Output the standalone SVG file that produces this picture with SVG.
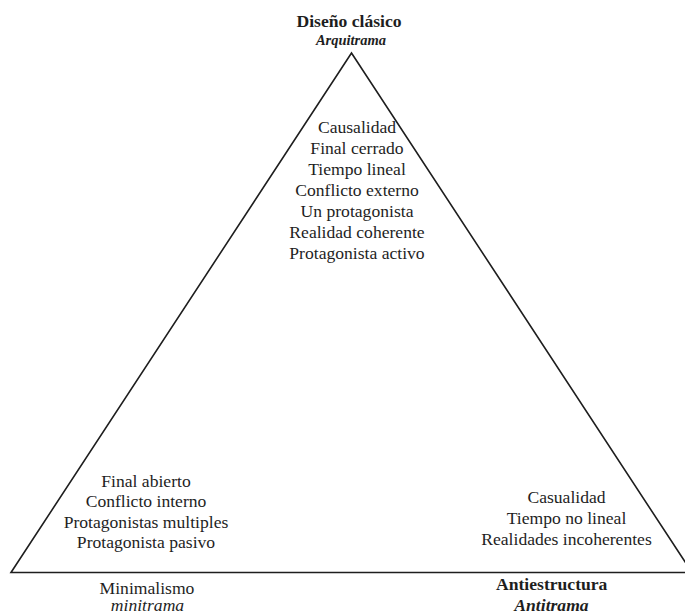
<svg xmlns="http://www.w3.org/2000/svg" width="685" height="613" viewBox="0 0 685 613">
<style>
text{font-family:"Liberation Serif","Times New Roman",serif;fill:#1e1e1e;text-anchor:middle;font-size:17.6px}
.b{font-weight:bold}
.i{font-style:italic}
.s{font-size:14.5px}
.edge{fill:none;stroke:#1e1e1e;stroke-width:1.6;stroke-linejoin:miter}
</style>
<rect width="685" height="613" fill="#ffffff"/>
<g id="connectors">
<path class="edge" d="M692 572.5 L351.5 53 L11 572.5 L692 572.5"/>
</g>
<g id="top-vertex">
<text class="b" x="349" y="27" font-size="17.2">Diseño clásico</text>
<text class="b i s" x="351" y="45">Arquitrama</text>
</g>
<g id="top-list">
<text x="357" y="133">Causalidad</text>
<text x="357" y="154">Final cerrado</text>
<text x="357" y="175">Tiempo lineal</text>
<text x="357" y="196">Conflicto externo</text>
<text x="357" y="217">Un protagonista</text>
<text x="357" y="238">Realidad coherente</text>
<text x="357" y="259">Protagonista activo</text>
</g>
<g id="left-list">
<text x="146" y="487">Final abierto</text>
<text x="146" y="507.3">Conflicto interno</text>
<text x="146" y="527.6">Protagonistas multiples</text>
<text x="146" y="548">Protagonista pasivo</text>
</g>
<g id="right-list">
<text x="566.5" y="503">Casualidad</text>
<text x="566.5" y="524">Tiempo no lineal</text>
<text x="566.5" y="545">Realidades incoherentes</text>
</g>
<g id="left-vertex">
<text x="147" y="594">Minimalismo</text>
<text class="i" x="147.5" y="610.5">minitrama</text>
</g>
<g id="right-vertex">
<text class="b" x="551.7" y="590">Antiestructura</text>
<text class="b i" x="551.5" y="610.5">Antitrama</text>
</g>
</svg>
